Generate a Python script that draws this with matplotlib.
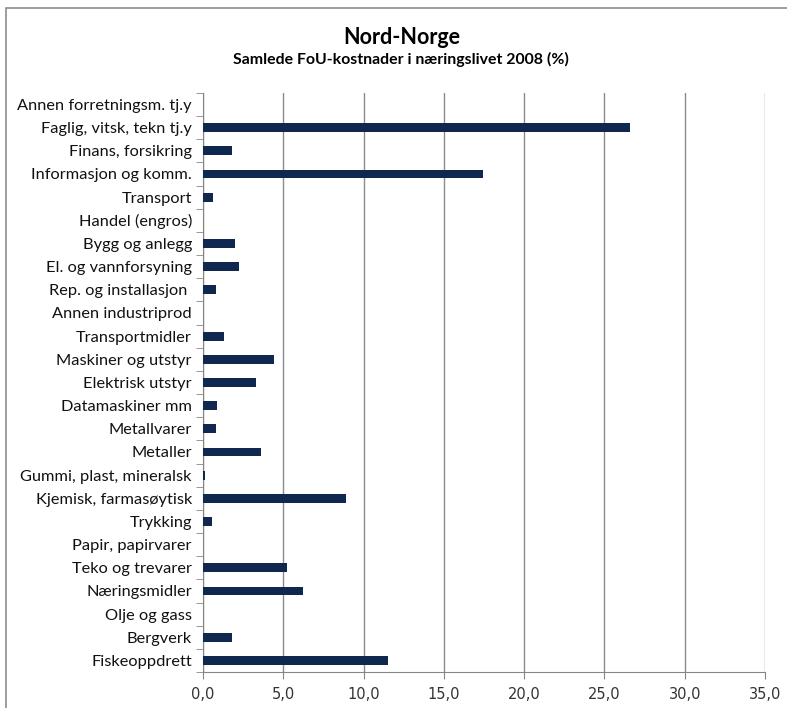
import matplotlib
matplotlib.use("Agg")
import matplotlib.pyplot as plt
import numpy as np
from matplotlib.ticker import FuncFormatter
from matplotlib.patches import Rectangle

# kategorier, fra topp til bunn
naeringer = ["Annen forretningsm. tj.y", "Faglig, vitsk, tekn tj.y", "Finans, forsikring",
             "Informasjon og komm.", "Transport", "Handel (engros)", "Bygg og anlegg",
             "El. og vannforsyning", "Rep. og installasjon ", "Annen industriprod",
             "Transportmidler", "Maskiner og utstyr", "Elektrisk utstyr", "Datamaskiner mm",
             "Metallvarer", "Metaller", "Gummi, plast, mineralsk", "Kjemisk, farmasøytisk",
             "Trykking", "Papir, papirvarer", "Teko og trevarer", "Næringsmidler",
             "Olje og gass", "Bergverk", "Fiskeoppdrett"]
andel = [0.0, 26.6, 1.8, 17.45, 0.65, 0.0, 2.0, 2.27, 0.8, 0.0,
         1.3, 4.4, 3.3, 0.9, 0.8, 3.6, 0.15, 8.9, 0.53, 0.0,
         5.2, 6.2, 0.0, 1.8, 11.5]
x_ticks = [0, 5, 10, 15, 20, 25, 30, 35]

fig = plt.figure(figsize=(7.87, 7.08), dpi=100)
ax = fig.add_axes([0.258, 0.0508, 0.714, 0.818])

y = np.arange(len(naeringer))
ax.barh(y, andel, height=0.38, color="#10284F", zorder=3)
ax.set_ylim(len(naeringer) - 0.5, -0.5)
ax.set_xlim(0, 35)

ax.set_yticks(y)
ax.set_yticklabels(naeringer, fontsize=11.8, family="Lato", color="#111111")
ax.set_yticks(np.arange(len(naeringer) + 1) - 0.5, minor=True)
ax.tick_params(axis="y", which="major", length=0, pad=8)
ax.tick_params(axis="y", which="minor", length=5, color="#868686", direction="out")

ax.set_xticks(x_ticks)
ax.xaxis.set_major_formatter(FuncFormatter(lambda v, p: f"{v:.1f}".replace(".", ",")))
ax.tick_params(axis="x", length=5, color="#868686", labelsize=10.5, pad=6)
for lab in ax.get_xticklabels():
    lab.set_family("DejaVu Sans")
    lab.set_color("#333333")

ax.grid(axis="x", color="#8c8c8c", linewidth=1.0, zorder=0)
for s in ["top", "right"]:
    ax.spines[s].set_visible(False)
for s in ["left", "bottom"]:
    ax.spines[s].set_color("#868686")

fig.text(0.511, 0.947, "Nord-Norge", ha="center", va="center", fontsize=15.5,
         fontweight="bold", family="Lato")
fig.text(0.509, 0.916, "Samlede FoU-kostnader i næringslivet 2008 (%)", ha="center",
         va="center", fontsize=11.4, fontweight="bold", family="Lato")

# ramme rundt diagrammet
fig.patches.append(Rectangle((0.007, -0.01), 1.0, 0.999, transform=fig.transFigure,
                             fill=False, edgecolor="#8c8c8c", linewidth=1.2))

fig.savefig("out.png", dpi=100)
